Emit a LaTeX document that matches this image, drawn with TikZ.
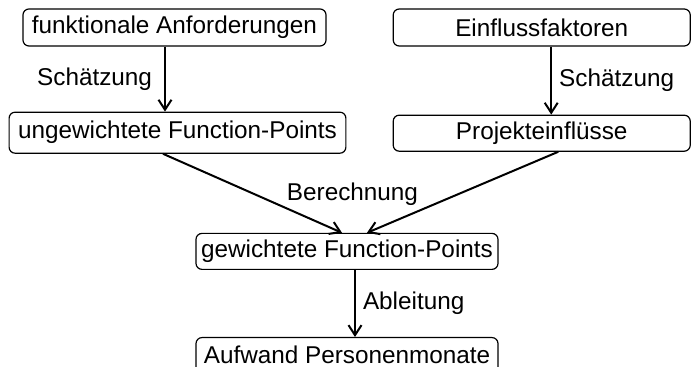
\documentclass[tikz,border=0pt]{standalone}
\usepackage{fontspec}
\setmainfont{Liberation Sans}
\usetikzlibrary{arrows.meta}
\usetikzlibrary{positioning}
\newcommand{\boxfont}{\fontsize{12.15pt}{14pt}\selectfont}
\tikzstyle{box}=[draw, rounded corners=3pt, line width=0.6pt, inner xsep=4.5pt,
minimum height=18.5pt, anchor=center, text centered, font=\boxfont]
\tikzstyle{widebox}=[box, minimum width=148.5pt]
\tikzstyle{midbox}=[box, inner xsep=2.5pt, minimum width=151pt, minimum height=17.5pt]
\tikzstyle{lbl}=[inner sep=3.5pt, font=\boxfont]
\tikzstyle{myarrow}=[-{Straight Barb[length=5pt,width=6.5pt]}, line width=1pt]

\begin{document}
\begin{tikzpicture}

    \useasboundingbox (0,0) rectangle (345.5pt,-183.5pt);

    \node[box] (funkAnf) at (87.25pt,-13.75pt) {funktionale Anforderungen};
    \node[widebox, right=33pt of funkAnf] (einfl) {Einflussfaktoren};

    % UNGEWICHTET
    \node[box, below=32.5pt of funkAnf, xshift=1.5pt, minimum height=20.5pt] (ungew) {ungewichtete Function-Points};
    \draw[myarrow] ([xshift=-4.75pt]funkAnf.south) -- ([xshift=-4.75pt]funkAnf.south |- ungew.north)
        node[lbl, midway, left, xshift=-2.5pt] (schaetzL) {Schätzung};

    % PROJEKTEINFLUESSE
    \node[widebox, below=34pt of einfl, minimum height=18pt] (projEinfl) {Projekteinflüsse};
    \draw[myarrow] ([xshift=4.75pt]einfl.south) -- ([xshift=4.75pt]einfl.south |- projEinfl.north)
        node[lbl, midway, right] (schaetzR) {Schätzung};

    % GEWICHTET
    \node[midbox, below=39.5pt of ungew, xshift=84.75pt] (gew) {gewichtete Function-Points};
    \draw[myarrow] ([xshift=-7.25pt]ungew.south) -- ([xshift=-2.5pt]gew.north);
    \draw[myarrow] ([xshift=8.25pt]projEinfl.south) -- ([xshift=10pt]gew.north);
    \node[lbl, above=10pt of gew, xshift=2.75pt] (berech) {Berechnung};

    % AUFWAND
    \node[midbox, below=33.5pt of gew] (aufwand) {Aufwand Personenmonate};
    \draw[myarrow] ([xshift=4pt]gew.south) -- ([xshift=4pt]gew.south |- aufwand.north)
        node[lbl, midway, right] (ableit) {Ableitung};

\end{tikzpicture}
\end{document}
